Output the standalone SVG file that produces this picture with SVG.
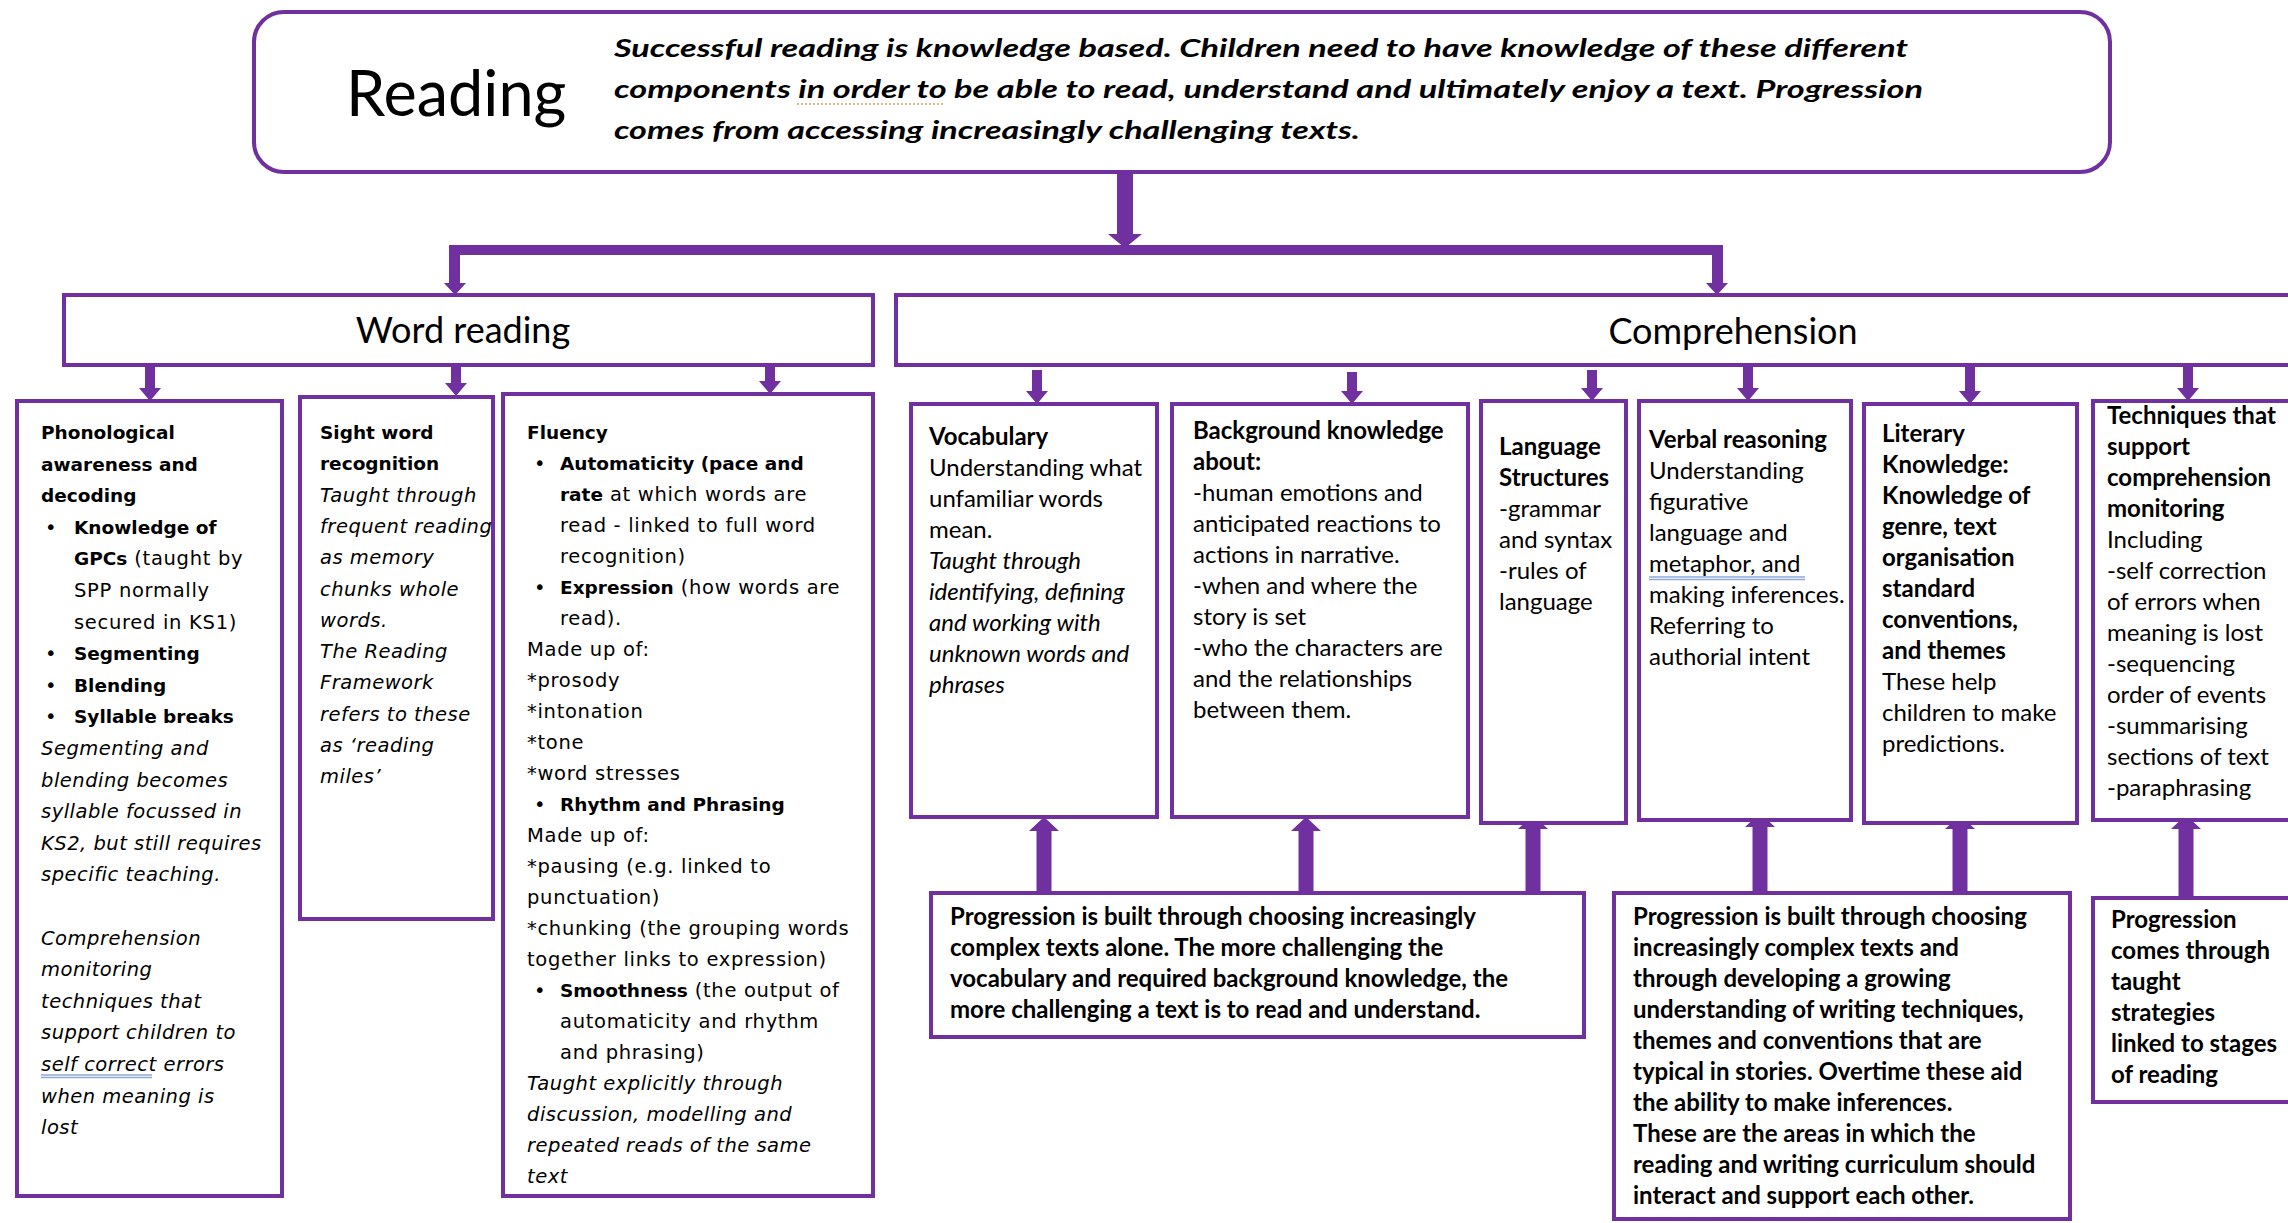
<svg xmlns="http://www.w3.org/2000/svg" width="2288" height="1223" viewBox="0 0 2288 1223">
<style>
.box{fill:#fff;stroke:#7030A0;stroke-width:4}
.arr{fill:#7030A0}
.c{font-family:Lato,"Open Sans",sans-serif;font-size:24px;fill:#000}
.v{font-family:"DejaVu Sans",Verdana,sans-serif;font-size:19.5px;letter-spacing:0.7px;fill:#000}
.b{font-weight:bold}
.i{font-style:italic}
.v .b{font-size:18.5px;letter-spacing:0}
.v .i{font-size:19.5px;letter-spacing:0.5px}
.h{font-family:Lato,"Open Sans",sans-serif;font-size:36px;fill:#000}
.ul{stroke:#8EA9DB;stroke-width:1.5}
</style>
<rect width="2288" height="1223" fill="#fff"/>
<g id="connectors">
<rect class="arr" x="449" y="245" width="1274" height="10"/>
<polygon class="arr" points="1117,173 1133,173 1133,234 1142,234 1125,248 1108,234 1117,234"/>
<polygon class="arr" points="449,250 460,250 460,283 466,283 455,295 444,283 449,283"/>
<polygon class="arr" points="1712,250 1723,250 1723,283 1728,283 1717,295 1706,283 1712,283"/>
<polygon class="arr" points="145,365 155,365 155,388 161,388 150,401 139,388 145,388"/>
<polygon class="arr" points="451,365 461,365 461,383 467,383 456,396 445,383 451,383"/>
<polygon class="arr" points="765,365 775,365 775,381 781,381 770,394 759,381 765,381"/>
<polygon class="arr" points="1032,370 1042,370 1042,391 1048,391 1037,404 1026,391 1032,391"/>
<polygon class="arr" points="1347,372 1357,372 1357,391 1363,391 1352,404 1341,391 1347,391"/>
<polygon class="arr" points="1587,370 1597,370 1597,388 1603,388 1592,401 1581,388 1587,388"/>
<polygon class="arr" points="1743,365 1753,365 1753,388 1759,388 1748,401 1737,388 1743,388"/>
<polygon class="arr" points="1965,365 1975,365 1975,391 1981,391 1970,404 1959,391 1965,391"/>
<polygon class="arr" points="2183,365 2193,365 2193,388 2199,388 2188,401 2177,388 2183,388"/>
<polygon class="arr" points="1036.5,893 1051.5,893 1051.5,831 1059,831 1044,817 1029,831 1036.5,831"/>
<polygon class="arr" points="1298.5,893 1313.5,893 1313.5,831 1321,831 1306,817 1291,831 1298.5,831"/>
<polygon class="arr" points="1525.5,893 1540.5,893 1540.5,829 1548,829 1533,815 1518,829 1525.5,829"/>
<polygon class="arr" points="1752.5,893 1767.5,893 1767.5,827 1775,827 1760,813 1745,827 1752.5,827"/>
<polygon class="arr" points="1952.5,893 1967.5,893 1967.5,829 1975,829 1960,815 1945,829 1952.5,829"/>
<polygon class="arr" points="2178.5,900 2193.5,900 2193.5,829 2201,829 2186,815 2171,829 2178.5,829"/>
</g>
<g id="reading">
<rect class="box" x="254" y="12" width="1856" height="160" rx="30"/>
<text x="346" y="116" font-family="Lato,'Open Sans',sans-serif" font-size="63">Reading</text>
<text class="c b i" font-size="29" x="614" y="57" textLength="1294" lengthAdjust="spacingAndGlyphs">Successful reading is knowledge based. Children need to have knowledge of these different</text>
<text class="c b i" font-size="29" x="614" y="98" textLength="1309" lengthAdjust="spacingAndGlyphs">components in order to be able to read, understand and ultimately enjoy a text. Progression</text>
<text class="c b i" font-size="29" x="614" y="139" textLength="746" lengthAdjust="spacingAndGlyphs">comes from accessing increasingly challenging texts.</text>
<line x1="797" y1="104" x2="945" y2="104" stroke="#C9A46A" stroke-width="1.5" stroke-dasharray="2,2"/>
</g>
<g id="word-reading">
<rect class="box" x="64" y="295" width="809" height="70"/>
<text class="h" x="463" y="343" text-anchor="middle">Word reading</text>
</g>
<g id="comprehension">
<rect class="box" x="896" y="295" width="1400" height="70"/>
<text class="h" x="1733" y="344" text-anchor="middle">Comprehension</text>
</g>
<g id="phonological">
<rect class="box" x="17" y="401" width="265" height="795"/>
<g class="v">
<text class="b" x="41" y="439">Phonological</text>
<text class="b" x="41" y="470.6">awareness and</text>
<text class="b" x="41" y="502.2">decoding</text>
<text x="45" y="533.8">•</text><text class="b" x="74" y="533.8">Knowledge of</text>
<text x="74" y="565.4"><tspan class="b">GPCs</tspan> (taught by</text>
<text x="74" y="597">SPP normally</text>
<text x="74" y="628.6">secured in KS1)</text>
<text x="45" y="660.2">•</text><text class="b" x="74" y="660.2">Segmenting</text>
<text x="45" y="691.8">•</text><text class="b" x="74" y="691.8">Blending</text>
<text x="45" y="723.4">•</text><text class="b" x="74" y="723.4">Syllable breaks</text>
<text class="i" x="41" y="755">Segmenting and</text>
<text class="i" x="41" y="786.6">blending becomes</text>
<text class="i" x="41" y="818.2">syllable focussed in</text>
<text class="i" x="41" y="849.8">KS2, but still requires</text>
<text class="i" x="41" y="881.4">specific teaching.</text>
<text class="i" x="41" y="944.6">Comprehension</text>
<text class="i" x="41" y="976.2">monitoring</text>
<text class="i" x="41" y="1007.8">techniques that</text>
<text class="i" x="41" y="1039.4">support children to</text>
<text class="i" x="41" y="1071">self correct errors</text>
<text class="i" x="41" y="1102.6">when meaning is</text>
<text class="i" x="41" y="1134.2">lost</text>
</g>
<line class="ul" x1="41" y1="1075" x2="152" y2="1075"/>
<line class="ul" x1="41" y1="1077.5" x2="152" y2="1077.5"/>
</g>
<g id="sight-word">
<rect class="box" x="300" y="397" width="193" height="522"/>
<g class="v">
<text class="b" x="320" y="439">Sight word</text>
<text class="b" x="320" y="470.3">recognition</text>
<text class="i" x="320" y="501.6">Taught through</text>
<text class="i" x="320" y="532.9">frequent reading</text>
<text class="i" x="320" y="564.2">as memory</text>
<text class="i" x="320" y="595.5">chunks whole</text>
<text class="i" x="320" y="626.8">words.</text>
<text class="i" x="320" y="658.1">The Reading</text>
<text class="i" x="320" y="689.4">Framework</text>
<text class="i" x="320" y="720.7">refers to these</text>
<text class="i" x="320" y="752">as ‘reading</text>
<text class="i" x="320" y="783.3">miles’</text>
</g>
</g>
<g id="fluency">
<rect class="box" x="503" y="394" width="370" height="802"/>
<g class="v">
<text class="b" x="527" y="439">Fluency</text>
<text x="534" y="470">•</text><text class="b" x="560" y="470">Automaticity (pace and</text>
<text x="560" y="501"><tspan class="b">rate</tspan> at which words are</text>
<text x="560" y="532">read - linked to full word</text>
<text x="560" y="563">recognition)</text>
<text x="534" y="594">•</text><text x="560" y="594"><tspan class="b">Expression</tspan> (how words are</text>
<text x="560" y="625">read).</text>
<text x="527" y="656">Made up of:</text>
<text x="527" y="687">*prosody</text>
<text x="527" y="718">*intonation</text>
<text x="527" y="749">*tone</text>
<text x="527" y="780">*word stresses</text>
<text x="534" y="811">•</text><text class="b" x="560" y="811">Rhythm and Phrasing</text>
<text x="527" y="842">Made up of:</text>
<text x="527" y="873">*pausing (e.g. linked to</text>
<text x="527" y="904">punctuation)</text>
<text x="527" y="935">*chunking (the grouping words</text>
<text x="527" y="966">together links to expression)</text>
<text x="534" y="997">•</text><text x="560" y="997"><tspan class="b">Smoothness</tspan> (the output of</text>
<text x="560" y="1028">automaticity and rhythm</text>
<text x="560" y="1059">and phrasing)</text>
<text class="i" x="527" y="1090">Taught explicitly through</text>
<text class="i" x="527" y="1121">discussion, modelling and</text>
<text class="i" x="527" y="1152">repeated reads of the same</text>
<text class="i" x="527" y="1183">text</text>
</g>
</g>
<g id="vocabulary">
<rect class="box" x="911" y="404" width="246" height="413"/>
<g class="c">
<text class="b" x="929" y="445">Vocabulary</text>
<text x="929" y="476">Understanding what</text>
<text x="929" y="507">unfamiliar words</text>
<text x="929" y="538">mean.</text>
<text class="i" x="929" y="569">Taught through</text>
<text class="i" x="929" y="600">identifying, defining</text>
<text class="i" x="929" y="631">and working with</text>
<text class="i" x="929" y="662">unknown words and</text>
<text class="i" x="929" y="693">phrases</text>
</g>
</g>
<g id="background-knowledge">
<rect class="box" x="1172" y="404" width="296" height="413"/>
<g class="c">
<text class="b" x="1193" y="439">Background knowledge</text>
<text class="b" x="1193" y="470">about:</text>
<text x="1193" y="501">-human emotions and</text>
<text x="1193" y="532">anticipated reactions to</text>
<text x="1193" y="563">actions in narrative.</text>
<text x="1193" y="594">-when and where the</text>
<text x="1193" y="625">story is set</text>
<text x="1193" y="656">-who the characters are</text>
<text x="1193" y="687">and the relationships</text>
<text x="1193" y="718">between them.</text>
</g>
</g>
<g id="language-structures">
<rect class="box" x="1481" y="401" width="145" height="422"/>
<g class="c">
<text class="b" x="1499" y="455">Language</text>
<text class="b" x="1499" y="486">Structures</text>
<text x="1499" y="517">-grammar</text>
<text x="1499" y="548">and syntax</text>
<text x="1499" y="579">-rules of</text>
<text x="1499" y="610">language</text>
</g>
</g>
<g id="verbal-reasoning">
<rect class="box" x="1639" y="401" width="212" height="419"/>
<g class="c">
<text class="b" x="1649" y="448">Verbal reasoning</text>
<text x="1649" y="479">Understanding</text>
<text x="1649" y="510">figurative</text>
<text x="1649" y="541">language and</text>
<text x="1649" y="572">metaphor, and</text>
<text x="1649" y="603">making inferences.</text>
<text x="1649" y="634">Referring to</text>
<text x="1649" y="665">authorial intent</text>
</g>
<line class="ul" x1="1649" y1="577" x2="1805" y2="577"/>
<line class="ul" x1="1649" y1="579.5" x2="1805" y2="579.5"/>
</g>
<g id="literary-knowledge">
<rect class="box" x="1864" y="404" width="213" height="419"/>
<g class="c">
<text class="b" x="1882" y="442">Literary</text>
<text class="b" x="1882" y="473">Knowledge:</text>
<text class="b" x="1882" y="504">Knowledge of</text>
<text class="b" x="1882" y="535">genre, text</text>
<text class="b" x="1882" y="566">organisation</text>
<text class="b" x="1882" y="597">standard</text>
<text class="b" x="1882" y="628">conventions,</text>
<text class="b" x="1882" y="659">and themes</text>
<text x="1882" y="690">These help</text>
<text x="1882" y="721">children to make</text>
<text x="1882" y="752">predictions.</text>
</g>
</g>
<g id="techniques">
<rect class="box" x="2093" y="401" width="210" height="419"/>
<g class="c">
<text class="b" x="2107" y="424">Techniques that</text>
<text class="b" x="2107" y="455">support</text>
<text class="b" x="2107" y="486">comprehension</text>
<text class="b" x="2107" y="517">monitoring</text>
<text x="2107" y="548">Including</text>
<text x="2107" y="579">-self correction</text>
<text x="2107" y="610">of errors when</text>
<text x="2107" y="641">meaning is lost</text>
<text x="2107" y="672">-sequencing</text>
<text x="2107" y="703">order of events</text>
<text x="2107" y="734">-summarising</text>
<text x="2107" y="765">sections of text</text>
<text x="2107" y="796">-paraphrasing</text>
</g>
</g>
<g id="progression-vocabulary">
<rect class="box" x="931" y="893" width="653" height="144"/>
<g class="c b">
<text x="950" y="925">Progression is built through choosing increasingly</text>
<text x="950" y="956">complex texts alone. The more challenging the</text>
<text x="950" y="987">vocabulary and required background knowledge, the</text>
<text x="950" y="1018">more challenging a text is to read and understand.</text>
</g>
</g>
<g id="progression-literary">
<rect class="box" x="1614" y="893" width="456" height="326"/>
<g class="c b">
<text x="1633" y="925">Progression is built through choosing</text>
<text x="1633" y="956">increasingly complex texts and</text>
<text x="1633" y="987">through developing a growing</text>
<text x="1633" y="1018">understanding of writing techniques,</text>
<text x="1633" y="1049">themes and conventions that are</text>
<text x="1633" y="1080">typical in stories. Overtime these aid</text>
<text x="1633" y="1111">the ability to make inferences.</text>
<text x="1633" y="1142">These are the areas in which the</text>
<text x="1633" y="1173">reading and writing curriculum should</text>
<text x="1633" y="1204">interact and support each other.</text>
</g>
</g>
<g id="progression-strategies">
<rect class="box" x="2093" y="898" width="210" height="204"/>
<g class="c b">
<text x="2111" y="928">Progression</text>
<text x="2111" y="959">comes through</text>
<text x="2111" y="990">taught</text>
<text x="2111" y="1021">strategies</text>
<text x="2111" y="1052">linked to stages</text>
<text x="2111" y="1083">of reading</text>
</g>
</g>
</svg>
